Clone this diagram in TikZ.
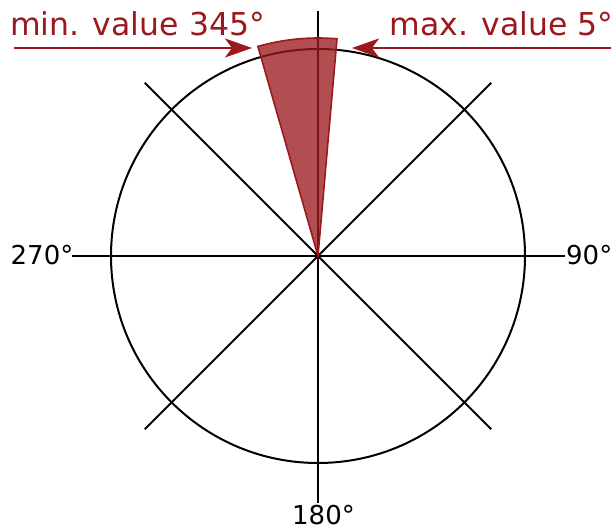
\documentclass[tikz,border=0pt]{standalone}
\usepackage{fontspec}
\setmainfont{DejaVu Sans}
\usetikzlibrary{arrows.meta,calc}
\definecolor{dred}{RGB}{155,25,28}
\begin{document}
\begin{tikzpicture}[x=1pt,y=1pt,
 axis/.style={line width=2pt,black},
 lbl/.style={inner sep=0pt,anchor=base west,font=\fontsize{26}{30}\selectfont},
 rlbl/.style={inner sep=0pt,anchor=base west,text=dred,font=\fontsize{31.5}{36}\selectfont},
 ptr/.style={dred,line width=2pt,-{Stealth[length=27pt,width=19pt,inset=7pt]}},
 wedgestyle/.style={draw=dred,line width=1.6pt,fill=dred,fill opacity=0.77}]
\useasboundingbox (0,0) rectangle (613,-529);
\coordinate (c) at (318,-256);
\coordinate (top) at (318,-11);
\coordinate (bot) at (318,-503);
\coordinate (left) at (72,-256);
\coordinate (right) at (565,-256);
\draw[axis] (top) -- (bot);
\draw[axis] (left) -- (right);
\draw[axis] ($(c)+(135:245)$) -- ($(c)+(-45:245)$);
\draw[axis] ($(c)+(45:245)$) -- ($(c)+(-135:245)$);
\draw[axis] (c) circle[radius=207];
\draw[wedgestyle] (c) -- ++(106:218) arc[start angle=106, end angle=85, radius=218] -- cycle;
\node[lbl] (n270) at (10.5,-264.5) {270°};
\node[lbl] (n90) at (566,-265) {90°};
\node[lbl] (n180) at (292,-524) {180°};
\node[rlbl] (nmin) at (10,-36) {min. value 345°};
\node[rlbl] (nmax) at (389.5,-36) {max. value 5°};
\coordinate (minS) at (14,-48);
\coordinate (minT) at (252,-48);
\coordinate (maxS) at (611,-48);
\coordinate (maxT) at (352,-48);
\draw[ptr] (minS) -- (minT);
\draw[ptr] (maxS) -- (maxT);
\end{tikzpicture}
\end{document}
